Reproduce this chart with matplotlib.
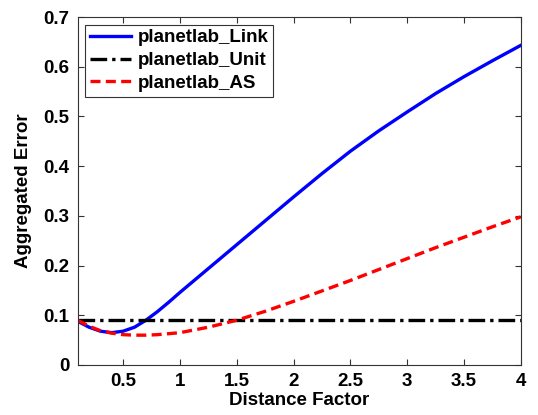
import matplotlib.pyplot as plt

x = [0.1, 0.2, 0.3, 0.4, 0.5, 0.6, 0.7, 0.8, 0.9, 1.0, 1.25, 1.5, 1.75,
     2.0, 2.25, 2.5, 2.75, 3.0, 3.25, 3.5, 3.75, 4.0]
link = [0.088, 0.076, 0.068, 0.065, 0.068, 0.076, 0.090, 0.107, 0.126, 0.146, 0.194,
        0.242, 0.290, 0.338, 0.385, 0.430, 0.471, 0.509, 0.546, 0.580, 0.612, 0.643]
unit = [0.09] * len(x)
as_err = [0.090, 0.078, 0.069, 0.064, 0.061, 0.060, 0.060, 0.061, 0.063, 0.065, 0.076,
          0.090, 0.108, 0.128, 0.149, 0.170, 0.192, 0.214, 0.236, 0.257, 0.278, 0.298]

xticks = [0.5, 1, 1.5, 2, 2.5, 3, 3.5, 4]
xtick_labels = ["0.5", "1", "1.5", "2", "2.5", "3", "3.5", "4"]
yticks = [0, 0.1, 0.2, 0.3, 0.4, 0.5, 0.6, 0.7]
ytick_labels = ["0", "0.1", "0.2", "0.3", "0.4", "0.5", "0.6", "0.7"]

plt.rcParams["font.family"] = ["Liberation Sans", "DejaVu Sans"]
plt.rcParams["font.weight"] = "bold"

fig = plt.figure(figsize=(5.38, 4.15), dpi=100)
ax = fig.add_axes([0.1444, 0.1205, 0.8236, 0.8385])

ax.plot(x, link, color="#0000ff", lw=2.4, label="planetlab_Link")
ax.plot(x, unit, color="black", lw=2.4, linestyle=(0, (5, 1.5, 1, 1.5)), label="planetlab_Unit")
ax.plot(x, as_err, color="#ff0000", lw=2.4, linestyle=(0, (3, 1.6)), label="planetlab_AS")

ax.set_xlim(0.1, 4)
ax.set_ylim(0, 0.7)
ax.set_xticks(xticks)
ax.set_xticklabels(xtick_labels)
ax.set_yticks(yticks)
ax.set_yticklabels(ytick_labels)
ax.tick_params(direction="in", top=True, right=True, labelsize=13.5, length=4,
               color="#333333", pad=6)
for s in ax.spines.values():
    s.set_color("#333333")
    s.set_linewidth(0.8)

ax.set_xlabel("Distance Factor", fontsize=13.5, fontweight="bold", labelpad=1)
ax.set_ylabel("Aggregated Error", fontsize=13.5, fontweight="bold", labelpad=8)

leg = ax.legend(loc="upper left", fontsize=13.5, frameon=True, fancybox=False,
                borderaxespad=0.4, handlelength=2.2, handletextpad=0.35,
                labelspacing=0.3, borderpad=0.25)
leg.get_frame().set_edgecolor("black")
leg.get_frame().set_linewidth(0.8)

fig.savefig("out.png", dpi=100)
